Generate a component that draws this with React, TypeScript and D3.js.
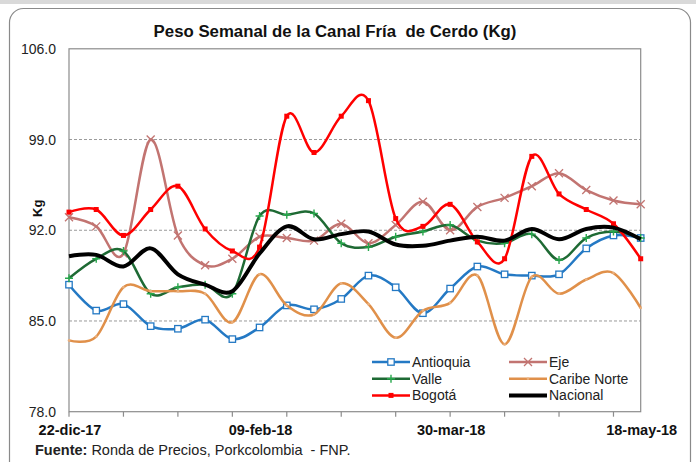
import React from 'react';
import * as d3 from 'd3';

// weekly dates (22 weeks)
const weeks = ['22-dic-17', '29-dic-17', '05-ene-18', '12-ene-18', '19-ene-18', '26-ene-18', '02-feb-18', '09-feb-18', '16-feb-18', '23-feb-18', '02-mar-18', '09-mar-18', '16-mar-18', '23-mar-18', '30-mar-18', '06-abr-18', '13-abr-18', '20-abr-18', '27-abr-18', '04-may-18', '11-may-18', '18-may-18'];
const shownLabels = ['22-dic-17', '09-feb-18', '30-mar-18', '18-may-18'];
const yTicks = [78, 85, 92, 99, 106];

const antioquia = [87.8, 85.8, 86.3, 84.6, 84.4, 85.1, 83.6, 84.5, 86.2, 85.9, 86.7, 88.5, 87.6, 85.6, 87.5, 89.2, 88.6, 88.5, 88.6, 90.6, 91.6, 91.4];
const eje = [93.0, 92.3, 90.2, 99.0, 91.6, 89.3, 89.8, 91.5, 91.4, 91.2, 92.5, 91.0, 92.4, 94.2, 92.0, 93.8, 94.5, 95.4, 96.4, 95.1, 94.3, 94.0];
const valle = [88.3, 89.8, 90.4, 87.1, 87.6, 87.8, 87.1, 93.1, 93.2, 93.3, 91.0, 90.7, 91.5, 91.9, 92.4, 91.2, 91.0, 91.7, 89.7, 91.4, 91.9, 91.4];
const caribeNorte = [83.5, 83.8, 87.6, 87.3, 87.3, 87.1, 84.9, 88.6, 86.2, 85.5, 87.9, 86.3, 83.7, 85.8, 86.4, 88.5, 83.2, 88.4, 87.1, 88.2, 88.7, 86.0];
const bogota = [93.4, 93.6, 91.6, 93.6, 95.4, 92.1, 90.4, 90.7, 100.8, 98.0, 100.8, 102.0, 92.9, 92.3, 94.0, 91.1, 89.8, 97.7, 94.8, 93.6, 92.5, 89.8];
const nacional = [90.0, 90.1, 89.2, 90.6, 88.6, 87.8, 87.3, 90.2, 92.3, 91.3, 91.7, 91.9, 90.9, 90.8, 91.2, 91.5, 91.2, 92.1, 91.3, 92.1, 92.2, 91.3];

type Marker = 'square' | 'x' | 'plus' | 'dot' | 'fsquare' | 'none';
const series: { name: string; values: number[]; color: string; mcolor: string; width: number; marker: Marker }[] = [
  { name: 'Antioquia', values: antioquia, color: '#2479c4', mcolor: '#2479c4', width: 2.5, marker: 'square' },
  { name: 'Eje', values: eje, color: '#c27471', mcolor: '#c27471', width: 2.5, marker: 'x' },
  { name: 'Valle', values: valle, color: '#1e6a34', mcolor: '#27a84c', width: 2.5, marker: 'plus' },
  { name: 'Caribe Norte', values: caribeNorte, color: '#e0904a', mcolor: '#eab07e', width: 2.5, marker: 'dot' },
  { name: 'Bogotá', values: bogota, color: '#ff0000', mcolor: '#ff0000', width: 2.5, marker: 'fsquare' },
  { name: 'Nacional', values: nacional, color: '#000000', mcolor: '#000000', width: 4, marker: 'none' },
];

const W = 696;
const H = 462;
const plot = { left: 69, right: 640.7, top: 48.8, bottom: 411.7 };

const drawMarker = (m: Marker, cx: number, cy: number, color: string, key: string) => {
  switch (m) {
    case 'square':
      return <rect key={key} x={cx - 3.2} y={cy - 3.2} width={6.4} height={6.4} fill="#fff" stroke={color} strokeWidth={1.3} />;
    case 'x':
      return (
        <path key={key} d={`M${cx - 4},${cy - 4}L${cx + 4},${cy + 4}M${cx - 4},${cy + 4}L${cx + 4},${cy - 4}`} stroke={color} strokeWidth={1.3} fill="none" />
      );
    case 'plus':
      return (
        <path key={key} d={`M${cx - 4},${cy}L${cx + 4},${cy}M${cx},${cy - 4}L${cx},${cy + 4}`} stroke={color} strokeWidth={1.4} fill="none" />
      );
    case 'dot':
      return <circle key={key} cx={cx} cy={cy} r={1.3} fill={color} />;
    case 'fsquare':
      return <rect key={key} x={cx - 2.5} y={cy - 2.5} width={5} height={5} fill={color} />;
    default:
      return null;
  }
};

const App = () => {
  const x = d3.scalePoint<string>().domain(weeks).range([plot.left, plot.right]);
  const y = d3.scaleLinear().domain([78, 106]).range([plot.bottom, plot.top]);

  const line = d3
    .line<number>()
    .x((_, i) => x(weeks[i]) as number)
    .y((d) => y(d))
    .curve(d3.curveCatmullRom.alpha(0));

  const font = 'Arial, "Liberation Sans", sans-serif';
  const legendRows = [
    [series[0], series[1]],
    [series[2], series[3]],
    [series[4], series[5]],
  ];

  return (
    <svg width={W} height={H} style={{ position: 'absolute', left: 0, top: 0 }} fontFamily={font}>
      <rect x={0} y={0} width={W} height={H} fill="#fff" />
      <rect x={0} y={0} width={W} height={4} fill="#d9d9d9" />
      <rect x={9.5} y={8.5} width={681} height={480} rx={14} fill="#fff" stroke="#8a8a8a" strokeWidth={1.2} />

      <text x={335} y={37} textAnchor="middle" fontSize={16.8} fontWeight="bold" fill="#111">
        {'Peso Semanal de la Canal Fría\u00a0 de Cerdo (Kg)'}
      </text>

      {/* gridlines */}
      {yTicks.slice(1, -1).map((t) => (
        <line key={t} x1={plot.left} x2={plot.right} y1={y(t)} y2={y(t)} stroke="#9a9a9a" strokeDasharray="3,2" strokeWidth={1} />
      ))}
      <rect x={plot.left} y={plot.top} width={plot.right - plot.left} height={plot.bottom - plot.top} fill="none" stroke="#8c8c8c" strokeWidth={1.2} />

      {/* y tick labels */}
      {yTicks.map((t) => (
        <text key={t} x={56} y={y(t) + 5} textAnchor="end" fontSize={14} fill="#222">
          {t.toFixed(1)}
        </text>
      ))}
      <text transform={`translate(42,${y(92) - 22}) rotate(-90)`} textAnchor="middle" fontSize={13} fontWeight="bold" fill="#111">
        Kg
      </text>

      {/* x ticks */}
      {weeks.map((w, i) =>
        i % 2 === 0 ? <line key={w} x1={x(w)} x2={x(w)} y1={plot.bottom} y2={plot.bottom + 5} stroke="#8c8c8c" strokeWidth={1.2} /> : null
      )}
      {shownLabels.map((l) => (
        <text key={l} x={(x(l) as number) + 1} y={435} textAnchor="middle" fontSize={14.5} fontWeight="bold" fill="#111">
          {l}
        </text>
      ))}

      {/* series */}
      {series.map((s) => (
        <g key={s.name}>
          <path d={line(s.values) as string} fill="none" stroke={s.color} strokeWidth={s.width} strokeLinejoin="round" />
          {s.values.map((v, i) => drawMarker(s.marker, x(weeks[i]) as number, y(v), s.mcolor, s.name + i))}
        </g>
      ))}

      {/* legend */}
      {legendRows.map((row, r) =>
        row.map((s, c) => {
          const lx = c === 0 ? 372 : 509;
          const ly = 362 + r * 16.7;
          return (
            <g key={s.name}>
              <line x1={lx} x2={lx + 38} y1={ly} y2={ly} stroke={s.color} strokeWidth={s.width} />
              {drawMarker(s.marker, lx + 19, ly, s.mcolor, s.name + 'lg')}
              <text x={lx + 40} y={ly + 5} fontSize={14} fill="#222">
                {s.name}
              </text>
            </g>
          );
        })
      )}

      <text x={35} y={455} fontSize={14.5} fill="#222">
        <tspan fontWeight="bold">Fuente: </tspan>
        <tspan>{'Ronda de Precios, Porkcolombia\u00a0 - FNP.'}</tspan>
      </text>
    </svg>
  );
};

export default App;
